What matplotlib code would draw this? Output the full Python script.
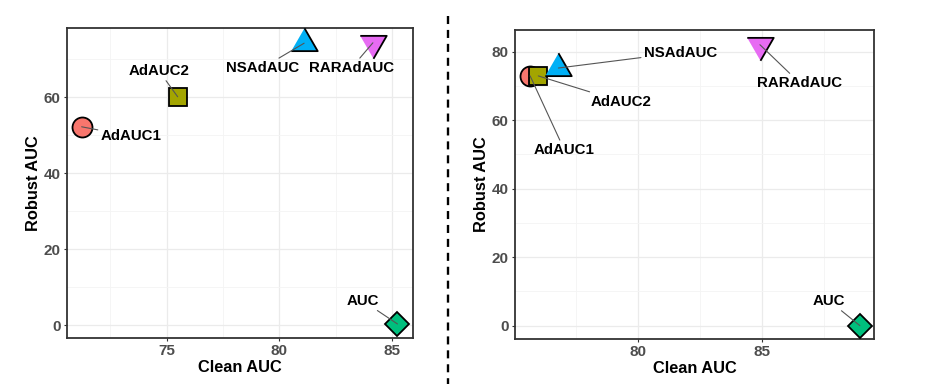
import matplotlib
matplotlib.use("Agg")
import matplotlib.pyplot as plt
from matplotlib.lines import Line2D
import numpy as np

plt.rcParams['font.family'] = ['Liberation Sans', 'DejaVu Sans']

# ---- data ----
methods = ["AdAUC1", "AdAUC2", "AUC", "NSAdAUC", "RARAdAUC"]
colors = ["#F8766D", "#A3A500", "#00BF7D", "#00B0F6", "#E76BF3"]

left_clean = [71.23, 75.49, 85.24, 81.10, 84.15]
left_robust = [52.2, 60.1, 0.3, 74.2, 74.3]

right_clean = [75.66, 75.99, 88.96, 76.80, 84.93]
right_robust = [72.9, 72.9, 0.0, 75.2, 82.0]

left_xticks = [75, 80, 85]
left_yticks = [0, 20, 40, 60]
right_xticks = [80, 85]
right_yticks = [0, 20, 40, 60, 80]

# ---- layout (label positions in data coords, like ggrepel output) ----
left_label_pos = {
    "AdAUC1": (73.42, 49.7), "AdAUC2": (74.66, 66.9), "AUC": (83.7, 6.4),
    "NSAdAUC": (79.25, 67.7), "RARAdAUC": (83.2, 67.7)}
right_label_pos = {
    "AdAUC1": (77.04, 51.3), "AdAUC2": (79.33, 65.4), "AUC": (87.73, 7.2),
    "NSAdAUC": (81.72, 79.7), "RARAdAUC": (86.54, 70.8)}

tri_up = [(-1, -0.577), (1, -0.577), (0, 1.155)]
tri_dn = [(-1, 0.577), (1, 0.577), (0, -1.155)]
markers = {"AdAUC1": ("o", 14.4), "AdAUC2": ("s", 12.4), "AUC": ("D", 11.9),
           "NSAdAUC": (tri_up, 22.0), "RARAdAUC": (tri_dn, 22.0)}

fig = plt.figure(figsize=(9.27, 3.91), dpi=100)
ax1 = fig.add_axes([67/927, 1-338/391, 346/927, 310/391])
ax2 = fig.add_axes([515/927, 1-339/391, 359/927, 309/391])


def draw(ax, xs, ys, lab_pos, xlim, ylim, xticks, yticks):
    for i, m in enumerate(methods):
        mk, ms = markers[m]
        ax.plot([xs[i]], [ys[i]], linestyle='none', marker=mk, markersize=ms,
                markerfacecolor=colors[i], markeredgecolor='black',
                markeredgewidth=1.3, zorder=3 + i)
    for i, m in enumerate(methods):
        lx, ly = lab_pos[m]
        ax.annotate(m, xy=(xs[i], ys[i]), xytext=(lx, ly), textcoords='data',
                    ha='center', va='center', fontsize=10.8, fontweight='bold',
                    color='black', zorder=20,
                    arrowprops=dict(arrowstyle='-', color='#555555', lw=0.8,
                                    shrinkA=0, shrinkB=0))
    ax.set_xlim(*xlim)
    ax.set_ylim(*ylim)
    ax.set_xticks(xticks)
    ax.set_yticks(yticks)
    step_x = xticks[1] - xticks[0]
    step_y = yticks[1] - yticks[0]
    mx = np.arange(xticks[0] - step_x / 2, xlim[1], step_x)
    my = np.arange(yticks[0] + step_y / 2, ylim[1], step_y)
    ax.set_xticks(mx, minor=True)
    ax.set_yticks(my, minor=True)
    ax.grid(True, which='major', color='#EBEBEB', lw=0.9, zorder=0)
    ax.grid(True, which='minor', color='#F4F4F4', lw=0.6, zorder=0)
    ax.set_axisbelow(True)
    ax.tick_params(which='minor', length=0)
    ax.tick_params(which='major', length=2.5, width=0.8, color='#333333',
                   labelsize=11, labelcolor='#4D4D4D', pad=2)
    for lbl in ax.get_xticklabels() + ax.get_yticklabels():
        lbl.set_fontweight('bold')
    for sp in ax.spines.values():
        sp.set_color('#333333')
        sp.set_linewidth(1.3)
    ax.set_xlabel("Clean AUC", fontsize=11.8, fontweight='bold', labelpad=1)
    ax.set_ylabel("Robust AUC", fontsize=11.8, fontweight='bold', labelpad=2)


draw(ax1, left_clean, left_robust, left_label_pos, (70.58, 85.93), (-3.4, 78.2),
     left_xticks, left_yticks)
draw(ax2, right_clean, right_robust, right_label_pos, (75.05, 89.53), (-3.9, 86.3),
     right_xticks, right_yticks)

fig.add_artist(Line2D([448/927, 448/927], [1-16/391, 1-384/391], color='black',
                      lw=1.7, linestyle=(0, (3.4, 2.5))))

fig.savefig("out.png", dpi=100)
